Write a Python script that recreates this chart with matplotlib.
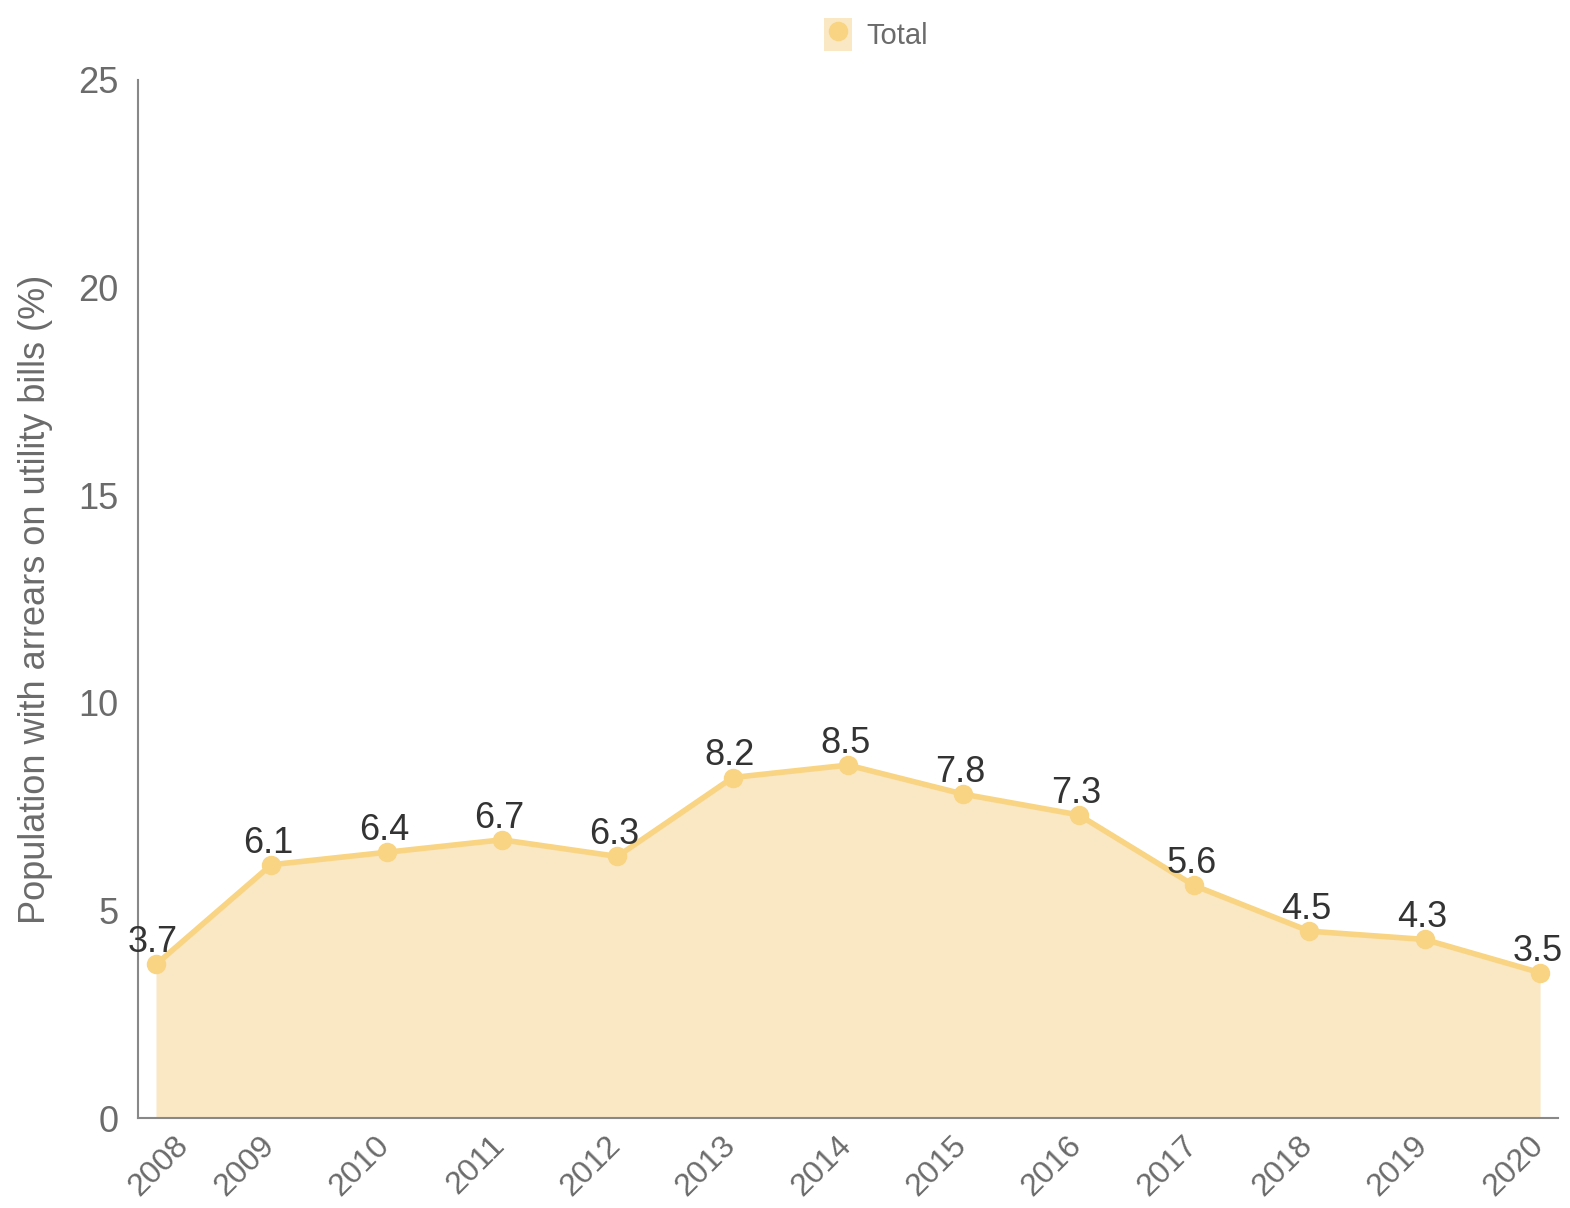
import matplotlib.pyplot as plt
from matplotlib.patches import Patch
from matplotlib.lines import Line2D
from matplotlib.transforms import ScaledTranslation

years = [2008, 2009, 2010, 2011, 2012, 2013, 2014, 2015, 2016, 2017, 2018, 2019, 2020]
total = [3.7, 6.1, 6.4, 6.7, 6.3, 8.2, 8.5, 7.8, 7.3, 5.6, 4.5, 4.3, 3.5]
yticks = [0, 5, 10, 15, 20, 25]

line_col = "#F8D483"
fill_col = "#FAE7C3"
grey = "#6b6b6b"

plt.rcParams["font.family"] = ["Liberation Sans", "DejaVu Sans"]

fig = plt.figure(figsize=(15.7, 12.08), dpi=100)
ax = fig.add_axes([0.0879, 0.0745, 0.9045, 0.8593])

ax.fill_between(years, total, 0, color=fill_col, linewidth=0)
ax.plot(years, total, color=line_col, linewidth=4, marker="o", markersize=13)

# data labels
for x, y in zip(years, total):
    ax.annotate(f"{y}", (x, y), xytext=(-2, 3), textcoords="offset points",
                ha="center", va="bottom", fontsize=26, color="#333333")

ax.set_xlim(years[0] - 0.156, years[-1] + 0.156)
ax.set_ylim(0, 25)
ax.set_yticks(yticks)
ax.set_xticks(years)
ax.set_xticklabels([str(y) for y in years], rotation=45, ha="right",
                   rotation_mode="anchor")

ax.tick_params(axis="both", length=0, colors=grey)
ax.tick_params(axis="y", pad=14, labelsize=26)
ax.tick_params(axis="x", pad=9, labelsize=23)

# nudge the rotated year labels so their ends sit at the ticks
for i, lab in enumerate(ax.get_xticklabels()):
    dx = 0.17 if i == 0 else -0.12
    lab.set_transform(lab.get_transform() + ScaledTranslation(dx, 0, fig.dpi_scale_trans))

for s in ["top", "right"]:
    ax.spines[s].set_visible(False)
for s in ["left", "bottom"]:
    ax.spines[s].set_color("#888888")
    ax.spines[s].set_linewidth(1.5)

ax.set_ylabel("Population with arrears on utility bills (%)", fontsize=26,
              color=grey, labelpad=18)

# legend: filled square with a dot on top
handle = (Patch(facecolor=fill_col, edgecolor="none"),
          Line2D([], [], color=line_col, marker="o", markersize=13, linestyle="none"))
fig.legend([handle], ["Total"], loc="upper center", bbox_to_anchor=(0.558, 1.007),
           frameon=False, fontsize=21, labelcolor=grey, handlelength=0.95,
           handleheight=1.4, handletextpad=0.5)

fig.savefig("out.png", dpi=100)
